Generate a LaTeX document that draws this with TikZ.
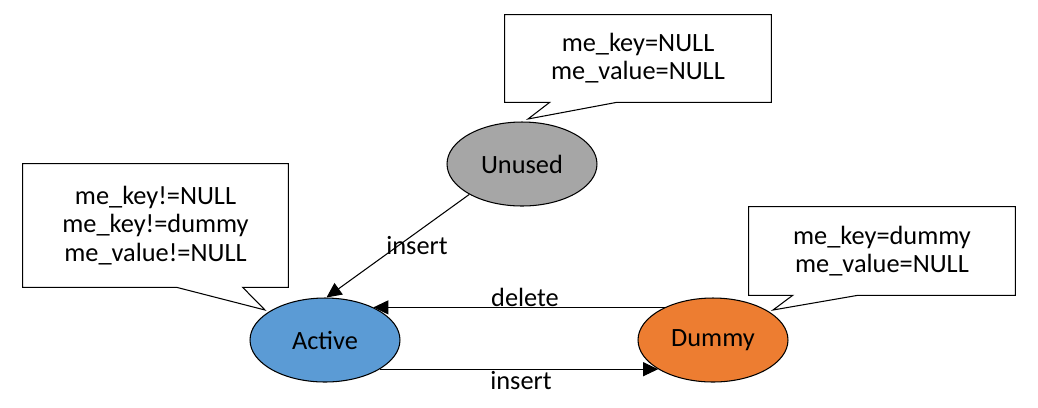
\documentclass[tikz,border=0pt]{standalone}
\usepackage{fontspec}
\setmainfont{Carlito}
\usetikzlibrary{shapes.geometric,arrows.meta,calc}
\definecolor{sgray}{RGB}{166,166,166}
\definecolor{sblue}{RGB}{91,155,213}
\definecolor{sorange}{RGB}{237,125,49}
\tikzset{
  st/.style={ellipse,draw=black,line width=0.6pt,minimum width=3cm,minimum height=1.68cm,inner sep=0pt},
  note/.style={align=center,inner sep=0pt,minimum width=5.32cm},
  callout/.style={draw=black,line width=0.6pt},
  tr/.style={-{Triangle[length=0.3cm,width=0.28cm]},draw=black,line width=0.6pt},
  lbl/.style={inner sep=1pt},
}
\begin{document}
\begin{tikzpicture}[x=0.02cm,y=-0.02cm,every node/.style={font=\fontsize{15}{16}\selectfont}]
\useasboundingbox (0,0) rectangle (1038,407);
\node[note,minimum height=1.74cm] (kUnused) at (638,58.5) {me\_key=NULL\\me\_value=NULL};
\node[note,minimum height=2.46cm,minimum width=5.30cm] (kActive) at (155.5,225.5) {me\_key!=NULL\\me\_key!=dummy\\me\_value!=NULL};
\node[note,minimum height=1.76cm] (kDummy) at (882,251) {me\_key=dummy\\me\_value=NULL};
\coordinate (tUnused) at (528,119);
\coordinate (tActive) at (265,310);
\coordinate (tDummy) at (773,310);
\draw[callout] (kUnused.south west) -- (kUnused.north west) -- (kUnused.north east) -- (kUnused.south east)
  -- ($(kUnused.south west)+(112,0)$) -- (tUnused) -- ($(kUnused.south west)+(45,0)$) -- cycle;
\draw[callout] (kActive.south west) -- (kActive.north west) -- (kActive.north east) -- (kActive.south east)
  -- ($(kActive.south west)+(220,0)$) -- (tActive) -- ($(kActive.south west)+(154,0)$) -- cycle;
\draw[callout] (kDummy.south west) -- (kDummy.north west) -- (kDummy.north east) -- (kDummy.south east)
  -- ($(kDummy.south west)+(109,0)$) -- (tDummy) -- ($(kDummy.south west)+(44,0)$) -- cycle;
\node[st,fill=sgray] (unused) at (522,164) {Unused};
\node[st,fill=sblue] (active) at (325,340) {Active};
\node[st,fill=sorange] (dummy) at (713,340) {Dummy};
\draw[tr] (unused.210) -- (active.88);
\draw[tr] (dummy.146) -- (active.34);
\draw[tr] (active.-28) -- (dummy.208);
\node[lbl] (lInsertA) at (417,246) {insert};
\node[lbl] (lDelete) at (525,297) {delete};
\node[lbl] (lInsertD) at (521,381) {insert};
\end{tikzpicture}
\end{document}
